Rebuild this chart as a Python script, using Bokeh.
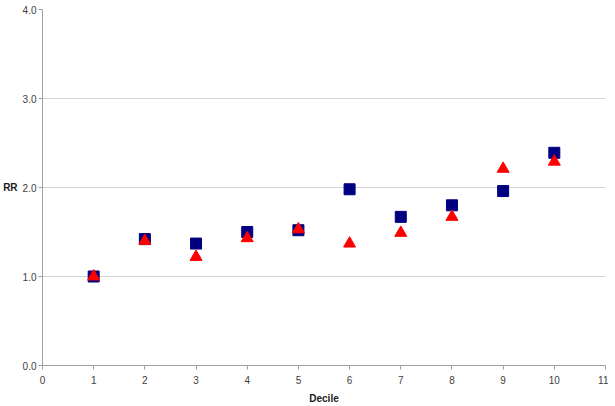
from bokeh.plotting import figure
from bokeh.embed import file_html
from bokeh.resources import INLINE
from bokeh.models import FixedTicker, NumeralTickFormatter, Range1d

deciles = [1, 2, 3, 4, 5, 6, 7, 8, 9, 10]
rr_squares = [1.00, 1.42, 1.37, 1.50, 1.52, 1.98, 1.67, 1.80, 1.96, 2.39]
rr_triangles = [1.00, 1.40, 1.22, 1.43, 1.53, 1.37, 1.49, 1.67, 2.21, 2.29]
x_ticks = [0, 1, 2, 3, 4, 5, 6, 7, 8, 9, 10, 11]
y_ticks = [0.0, 1.0, 2.0, 3.0, 4.0]

p = figure(width=608, height=406, output_backend="svg", toolbar_location=None,
           x_range=Range1d(0, 11), y_range=Range1d(0, 4),
           min_border_left=42, min_border_right=3, min_border_top=9, min_border_bottom=40)
p.outline_line_color = None
p.background_fill_color = "white"
p.border_fill_color = "white"

p.scatter(deciles, rr_squares, marker="square", size=11, fill_color="#000080", line_color="#000080")
p.scatter(deciles, rr_triangles, marker="triangle", size=12, fill_color="#ff0000", line_color="#ff0000")

p.xaxis.ticker = FixedTicker(ticks=x_ticks)
p.yaxis.ticker = FixedTicker(ticks=y_ticks)
p.yaxis.formatter = NumeralTickFormatter(format="0.0")

for ax in (p.xaxis, p.yaxis):
    ax.axis_line_color = "#a0a0a0"
    ax.major_tick_line_color = "#a0a0a0"
    ax.minor_tick_line_color = None
    ax.major_tick_in = 0
    ax.major_tick_out = 4
    ax.major_label_text_font = "Liberation Sans"
    ax.major_label_text_font_size = "10px"
    ax.major_label_text_color = "#404040"
    ax.axis_label_text_font = "Liberation Sans"
    ax.axis_label_text_font_size = "10px"
    ax.axis_label_text_font_style = "bold"
    ax.axis_label_text_color = "#202020"

p.xaxis.axis_label = "Decile"
p.xaxis.major_label_standoff = 6
p.xaxis.axis_label_standoff = 6
p.yaxis.axis_label = "RR"
p.yaxis.axis_label_orientation = "horizontal"
p.yaxis.major_label_standoff = 2
p.yaxis.axis_label_standoff = 2

p.xgrid.grid_line_color = None
p.ygrid.grid_line_color = "#d4d4d4"

open("out.html", "w").write(file_html(p, INLINE))
